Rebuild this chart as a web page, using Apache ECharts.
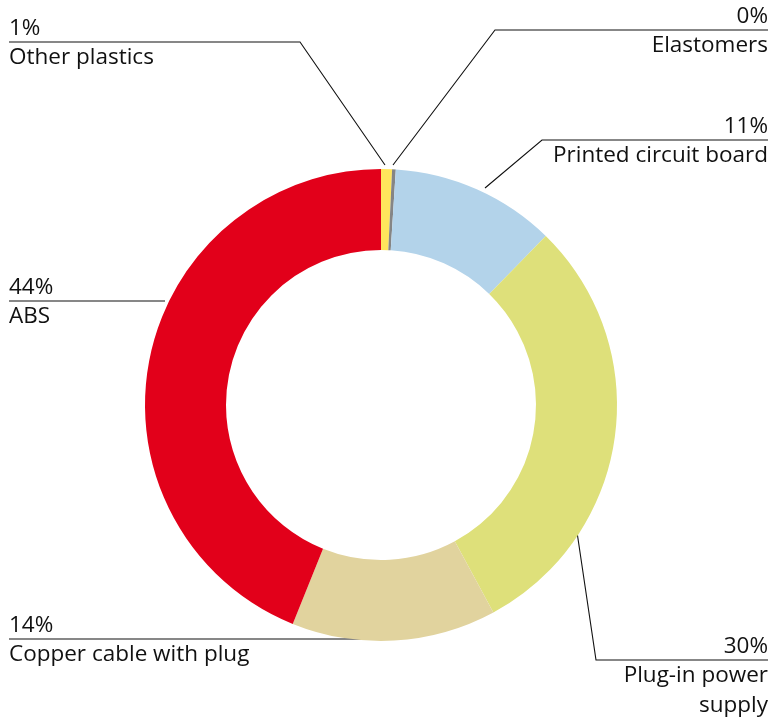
<!DOCTYPE html>
<html>
<head>
<meta charset="utf-8">
<script src="https://cdn.jsdelivr.net/npm/echarts@6/dist/echarts.min.js"></script>
<style>
  html, body { margin: 0; padding: 0; background: #fff; }
  #chart { width: 773px; height: 722px; }
</style>
</head>
<body>
<div id="chart"></div>
<script>
// material shares, clockwise from 12 o'clock
const names = ['Other plastics', 'Elastomers', 'Printed circuit board', 'Plug-in power\nsupply', 'Copper cable with plug', 'ABS']
const values = [0.75, 0.25, 11.3, 29.8, 14.0, 43.9]
const colors = ['#FFE55C', '#858585', '#B3D3EA', '#DEE07A', '#E1D39E', '#E2001A']

// leader lines: [start, elbow..., end], and which side the text sits on
const leaders = [
  { side: 'left', pts: [[385, 165], [300, 42], [9, 42]] },
  { side: 'right', pts: [[393, 165], [495, 30], [768, 30]] },
  { side: 'right', pts: [[485, 188], [542, 140], [768, 140]] },
  { side: 'right', pts: [[577, 532], [596, 660], [768, 660]] },
  { side: 'left', pts: [[366, 639], [9, 639]] },
  { side: 'left', pts: [[165, 301], [9, 301]] }
]

const LH = 28

const chart = echarts.init(document.getElementById('chart'))

const option = {
  animation: false,
  series: [
    {
      type: 'pie',
      center: [381, 405],
      radius: [155, 236],
      startAngle: 90,
      clockwise: true,
      avoidLabelOverlap: false,
      minShowLabelAngle: 0,
      data: names.map((n, i) => ({
        name: n,
        value: values[i],
        itemStyle: { color: colors[i] }
      })),
      itemStyle: { borderWidth: 0 },
      emphasis: { disabled: true },
      label: {
        show: true,
        position: 'outside',
        formatter: p => '{p|' + Math.round(p.value) + '%}\n{n|' + p.name + '}',
        rich: {
          p: { fontFamily: 'Open Sans', fontSize: 22.5, lineHeight: LH, color: '#111' },
          n: { fontFamily: 'Open Sans', fontSize: 22.5, lineHeight: 30, color: '#111' }
        }
      },
      labelLine: {
        show: true,
        lineStyle: { color: '#111', width: 1.1 }
      },
      labelLayout: params => {
        const l = leaders[params.dataIndex]
        const lineY = l.pts[l.pts.length - 1][1]
        return {
          x: l.side === 'left' ? 9 : 768,
          y: lineY - LH + 1,
          align: l.side,
          verticalAlign: 'top',
          labelLinePoints: l.pts
        }
      }
    }
  ]
}

chart.setOption(option)
</script>
</body>
</html>
